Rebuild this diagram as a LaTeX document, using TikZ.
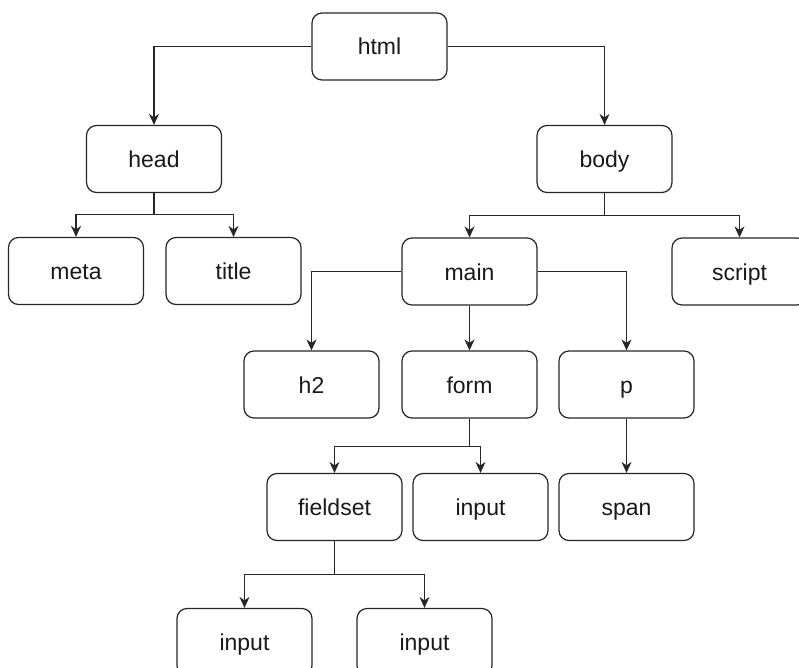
\documentclass[tikz,border=0pt]{standalone}
\usepackage{fontspec}
\setmainfont{Liberation Sans}
\usetikzlibrary{arrows.meta}
\begin{document}
\begin{tikzpicture}[x=1pt,y=-1pt,
  box/.style={draw=black!85, rounded corners=10pt, minimum width=135pt, minimum height=67pt, line width=1.2pt, font=\fontsize{23}{27}\selectfont, inner sep=0pt, text height=21pt, text depth=4pt, text=black!90},
  conn/.style={draw=black!85, line width=1.2pt, -{Stealth[length=11pt,width=10pt,inset=3.5pt]}}]
\useasboundingbox (0,0) rectangle (799,668);
\clip (0,0) rectangle (799,668);
\node[box] (html) at (379.5,46.5) {html};
\node[box] (head) at (154,159) {head};
\node[box] (body) at (604.5,159) {body};
\node[box] (meta) at (76,271) {meta};
\node[box] (title) at (233.5,271) {title};
\node[box] (main) at (469.5,271.5) {main};
\node[box] (script) at (739.5,271.5) {script};
\node[box] (h2) at (311.5,384.5) {h2};
\node[box] (form) at (469.5,384.5) {form};
\node[box] (p) at (626.5,384.5) {p};
\node[box] (fieldset) at (334.5,507) {fieldset};
\node[box] (input1) at (480.5,507) {input};
\node[box] (span) at (626.5,507) {span};
\node[box] (input2) at (244.5,642) {input};
\node[box] (input3) at (424.5,642) {input};

\draw[conn] (html.west) -| (head.north);
\draw[conn] (html.east) -| (body.north);
\draw[conn] (head.south) -- ++(0,21.5) -| (meta.north);
\draw[conn] (head.south) -- ++(0,21.5) -| (title.north);
\draw[conn] (body.south) -- ++(0,22) -| (main.north);
\draw[conn] (body.south) -- ++(0,22) -| (script.north);
\draw[conn] (main.west) -| (h2.north);
\draw[conn] (main.south) -- (form.north);
\draw[conn] (main.east) -| (p.north);
\draw[conn] (form.south) -- ++(0,28) -| (fieldset.north);
\draw[conn] (form.south) -- ++(0,28) -| (input1.north);
\draw[conn] (p.south) -- (span.north);
\draw[conn] (fieldset.south) -- ++(0,33) -| (input2.north);
\draw[conn] (fieldset.south) -- ++(0,33) -| (input3.north);
\end{tikzpicture}
\end{document}
